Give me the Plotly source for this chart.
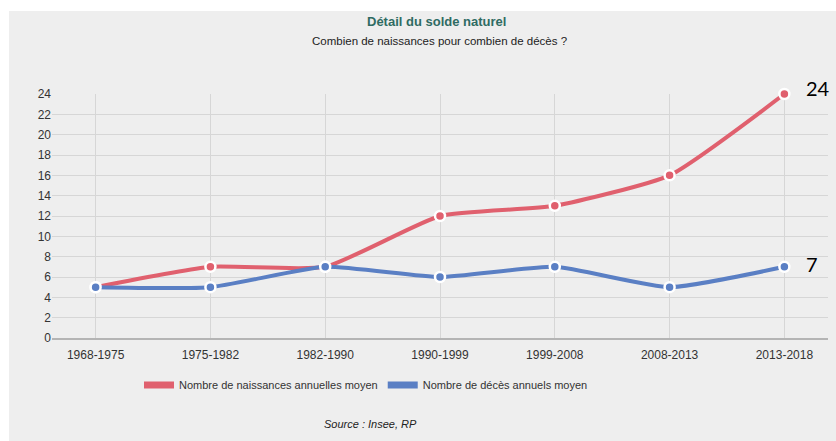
import plotly.graph_objects as go

periods = ["1968-1975", "1975-1982", "1982-1990", "1990-1999", "1999-2008", "2008-2013", "2013-2018"]
naissances = [5, 7, 7, 12, 13, 16, 24]
deces = [5, 5, 7, 6, 7, 5, 7]
y_ticks = list(range(0, 25, 2))

RED = "#e0606e"
BLUE = "#5a7fc4"
FONT = "Liberation Sans Narrow, Arial Narrow, Liberation Sans, Arial, sans-serif"

L, R, T, B = 52, 8, 94, 103
W, H = 836, 441
pw, ph = W - L - R, H - T - B

def px_x(p):
    return (p - L) / pw

def px_y(p):
    return (H - B - p) / ph

fig = go.Figure()
for name, vals, col in [("Nombre de naissances annuelles moyen", naissances, RED),
                        ("Nombre de décès annuels moyen", deces, BLUE)]:
    fig.add_trace(go.Scatter(
        x=periods, y=vals, mode="lines+markers", name=name, showlegend=False,
        line=dict(color=col, width=4, shape="spline", smoothing=0.5),
        marker=dict(color=col, size=10, line=dict(color="white", width=2.5)),
        cliponaxis=False,
    ))
    fig.add_trace(go.Scatter(
        x=[None], y=[None], mode="lines", name=name,
        line=dict(color=col, width=7),
    ))

# white strips outside the grey panel
fig.add_shape(type="rect", xref="paper", yref="paper", x0=px_x(0), x1=px_x(W), y0=px_y(11), y1=px_y(0),
              fillcolor="white", line_width=0, layer="below")
fig.add_shape(type="rect", xref="paper", yref="paper", x0=px_x(0), x1=px_x(9), y0=px_y(H), y1=px_y(0),
              fillcolor="white", line_width=0, layer="below")

fig.add_annotation(text="<b>Détail du solde naturel</b>", xref="paper", yref="paper",
                   x=px_x(436), y=px_y(22), showarrow=False, xanchor="center", yanchor="middle",
                   font=dict(family=FONT, size=13, color="#2f6b63"))
fig.add_annotation(text="Combien de naissances pour combien de décès ?", xref="paper", yref="paper",
                   x=px_x(439), y=px_y(41), showarrow=False, xanchor="center", yanchor="middle",
                   font=dict(family=FONT, size=11.5, color="#222"))
fig.add_annotation(text="<i>Source : Insee, RP</i>", xref="paper", yref="paper",
                   x=px_x(370), y=px_y(424), showarrow=False, xanchor="center", yanchor="middle",
                   font=dict(family=FONT, size=11, color="#222"))

fig.add_annotation(text=str(naissances[-1]), x=periods[-1], y=naissances[-1], xshift=34, yshift=6,
                   showarrow=False, font=dict(family="Lato, Carlito, sans-serif", size=20, color="black"))
fig.add_annotation(text=str(deces[-1]), x=periods[-1], y=deces[-1], xshift=28, yshift=3,
                   showarrow=False, font=dict(family="Lato, Carlito, sans-serif", size=20, color="black"))

fig.update_layout(
    width=W, height=H,
    margin=dict(l=L, r=R, t=T, b=B, pad=0),
    paper_bgcolor="#eeeeee", plot_bgcolor="rgba(0,0,0,0)",
    font=dict(family=FONT, size=12, color="#333"),
    showlegend=True,
    legend=dict(orientation="h", x=px_x(366), xanchor="center", y=px_y(385), yanchor="middle",
                font=dict(family=FONT, size=11, color="#333"), bgcolor="rgba(0,0,0,0)",
                itemwidth=30, tracegroupgap=0),
)
fig.update_xaxes(
    type="category", range=[-0.38, 6.38], showgrid=True, gridcolor="#d6d6d6", gridwidth=1,
    showline=True, linecolor="#b4b4b4", linewidth=2, ticks="outside", ticklen=5, tickcolor="rgba(0,0,0,0)",
    tickfont=dict(family=FONT, size=12, color="#333"), zeroline=False, fixedrange=True,
)
fig.update_yaxes(
    range=[0, 24], tickvals=y_ticks, showgrid=True, gridcolor="#d6d6d6", gridwidth=1,
    zeroline=False, ticks="", tickfont=dict(family=FONT, size=12, color="#333"), fixedrange=True,
)

fig.write_html("out.html", config={"displayModeBar": False},
               post_script="document.body.style.margin='0';document.body.style.overflow='hidden';")
